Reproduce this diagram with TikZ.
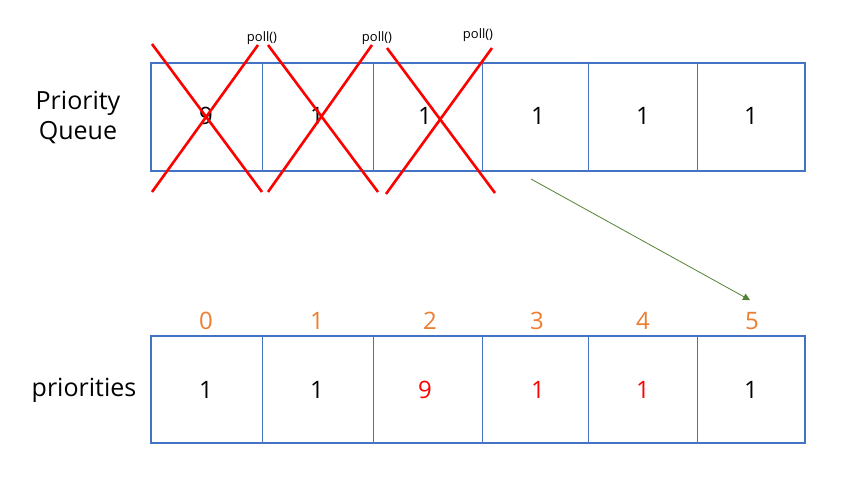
\documentclass[tikz,border=0pt]{standalone}
\usepackage{fontspec}
\setmainfont{Open Sans}
\usetikzlibrary{arrows.meta,calc}
\definecolor{boxblue}{HTML}{4472C4}
\definecolor{idxorange}{HTML}{ED7D31}
\definecolor{arrgreen}{HTML}{548235}
\begin{document}
\begin{tikzpicture}[x=1pt,y=-1pt,
  outer/.style={draw=boxblue,line width=1.8pt},
  divider/.style={draw=boxblue,line width=0.9pt},
  val/.style={font=\fontsize{24}{26}\selectfont,inner sep=0pt},
  idx/.style={font=\fontsize{24}{26}\selectfont,text=idxorange,inner sep=0pt},
  lbl/.style={font=\fontsize{25}{30}\selectfont,align=center,inner sep=0pt},
  pollt/.style={font=\fontsize{13}{15}\selectfont,inner sep=0pt},
  cross/.style={draw=red,line width=2.6pt}]
\useasboundingbox (0,0) rectangle (862,495);
% top queue
\node[outer,minimum width=654pt,minimum height=108pt,inner sep=0pt,anchor=north west] (pq) at (150,62) {};
\foreach \x in {262,373,482,588,697}{\draw[divider] (\x,62) -- (\x,170);}
\node[lbl] (pqlabel) at (78,117) {Priority\\Queue};
\node[val] (t0) at (206,116) {9};
\node[val] (t1) at (317,116) {1};
\node[val] (t2) at (425,116) {1};
\node[val] (t3) at (538,116) {1};
\node[val] (t4) at (643,116) {1};
\node[val] (t5) at (751,116) {1};
% crosses
\draw[cross] (152,44) -- (262,192);
\draw[cross] (152,192) -- (258,45);
\draw[cross] (268,45) -- (378,192);
\draw[cross] (268,192) -- (372,45);
\draw[cross] (387,48) -- (495,193);
\draw[cross] (386,194) -- (492,48);
\node[pollt] (p1) at (262,38) {poll()};
\node[pollt] (p2) at (377,38) {poll()};
\node[pollt] (p3) at (478,35) {poll()};
% bottom array
\node[outer,minimum width=654pt,minimum height=107pt,inner sep=0pt,anchor=north west] (pr) at (150,335) {};
\foreach \x in {262,373,482,588,697}{\draw[divider] (\x,335) -- (\x,442);}
\node[lbl] (prlabel) at (84,390) {priorities};
\node[val] (b0) at (206,390) {1};
\node[val] (b1) at (317,390) {1};
\node[val,text=red] (b2) at (425,390) {9};
\node[val,text=red] (b3) at (538,390) {1};
\node[val,text=red] (b4) at (643,390) {1};
\node[val] (b5) at (751,390) {1};
\node[idx] (i0) at (206,321) {0};
\node[idx] (i1) at (317,321) {1};
\node[idx] (i2) at (430,321) {2};
\node[idx] (i3) at (537,321) {3};
\node[idx] (i4) at (643,321) {4};
\node[idx] (i5) at (752,321) {5};
% arrow
\coordinate (as) at (531,179);
\draw[arrgreen,line width=0.8pt,-{Triangle[length=7pt,width=7pt]}] (as) -- ($(i5.north)+(-2,-12)$);
\end{tikzpicture}
\end{document}
